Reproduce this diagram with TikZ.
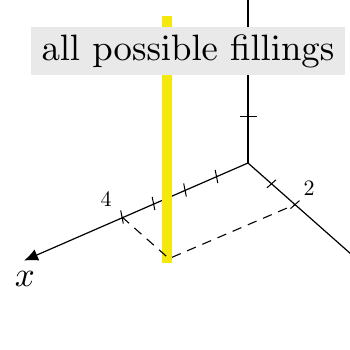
\documentclass[tikz,border=0pt]{standalone}
\usetikzlibrary{arrows.meta,calc}
\font\titlefont=cmr10 at 36.7pt
\font\digfont=cmr10 at 22pt
\font\varfont=cmmi10 at 35pt
\begin{document}
\begin{tikzpicture}[x=1pt,y=-1pt,
  axis/.style={line width=1.2pt,black},
  tickmark/.style={line width=1pt,black},
  filling/.style={line width=10pt,yellow!95!black,line cap=rect},
  guide/.style={line width=1.1pt,black,dash pattern=on 9.5pt off 7pt},
  labelbox/.style={fill=gray!17,inner xsep=10pt,inner ysep=7.5pt,font=\titlefont},
  ticklabel/.style={font=\digfont,inner sep=0pt}]
\useasboundingbox (0,0) rectangle (349,350);
% points
\coordinate (O) at (248,163);
\coordinate (ztop) at (248,-2);
\coordinate (xend) at (24,260.6);
\coordinate (yend) at (360,262);
\coordinate (x1) at (216.5,176.5);
\coordinate (x2) at (185,190);
\coordinate (x3) at (153.5,203.5);
\coordinate (x4) at (122,217);
\coordinate (y1) at (271.5,183.8);
\coordinate (y2) at (295,204.6);
\coordinate (z1) at (248,116);
\coordinate (P) at (169,258.6);
\coordinate (ftop) at (167,21);
\coordinate (fbot) at (167,258);
% axes
\draw[axis] (O) -- (ztop);
\draw[axis] (O) -- (yend);
\draw[axis,-{Latex[length=14pt,width=12pt]}] (O) -- (xend);
% ticks
\foreach \t in {x1,x2,x3,x4}
  \draw[tickmark] ($(\t)+(-1.3,-6.5)$) -- ($(\t)+(1.3,6.5)$);
\foreach \t in {y1,y2}
  \draw[tickmark] ($(\t)+(-4.5,4)$) -- ($(\t)+(4.5,-4)$);
\draw[tickmark] ($(z1)+(-8.5,0)$) -- ($(z1)+(8.5,0)$);
% yellow filling line
\draw[filling] (fbot) -- (ftop);
% dashed guides
\draw[guide] (x4) -- (P) -- (y2);
% labels
\node[ticklabel] (l4) at (106,199) {4};
\node[ticklabel] (l2) at (309,188) {2};
\node[font=\varfont,inner sep=0pt] (lx) at (25,279) {x};
\node[labelbox] (title) at (188,51) {all possible fillings};
\end{tikzpicture}
\end{document}
